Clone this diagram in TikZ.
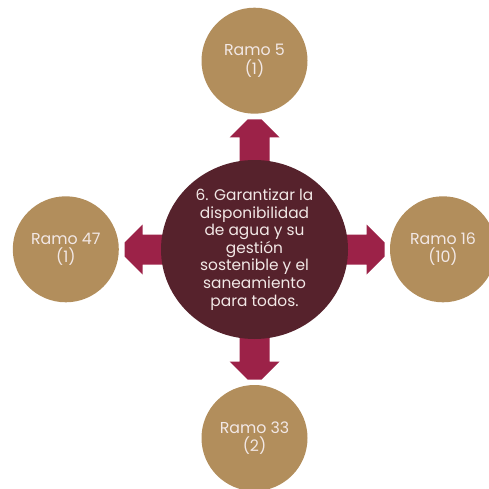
\documentclass[tikz,border=0pt]{standalone}
\usepackage{fontspec}
\setmainfont{Poppins}
\usetikzlibrary{shapes.geometric}
\definecolor{gold}{HTML}{B28E5C}
\definecolor{maroon}{HTML}{56222C}
\definecolor{guinda}{HTML}{9C2248}
\definecolor{cream}{HTML}{F2E8E6}
\pgfdeclarelayer{background}
\pgfsetlayers{background,main}
\begin{document}
\begin{tikzpicture}[x=1pt,y=-1pt,
  ramo/.style={circle, fill=gold, minimum size=106pt, inner sep=0pt, text=cream, align=center, font=\fontsize{15.8}{18.3}\selectfont},
  goal/.style={ellipse, fill=maroon, minimum width=187pt, minimum height=179pt, inner sep=0pt, text=cream, align=center, font=\fontsize{15.4}{17.6}\selectfont},
  blockarrow/.style={fill=guinda}]
\useasboundingbox (0,0) rectangle (489,489);
\clip (0,0) rectangle (489,489);
\node[goal] (g) at (254.5,249.5) {6. Garantizar la\\disponibilidad\\de agua y su\\gestión\\sostenible y el\\saneamiento\\para todos.};
\node[ramo] (r5) at (254.5,60.7) {Ramo 5\\(1)};
\node[ramo] (r47) at (65.8,249.3) {Ramo 47\\(1)};
\node[ramo] (r16) at (443,249.3) {Ramo 16\\(10)};
\node[ramo] (r33) at (254.5,438) {Ramo 33\\(2)};
\begin{pgfonlayer}{background}
\foreach \a in {0,90,180,270}{
  \begin{scope}[shift={(g.center)}, rotate=\a]
    \fill[blockarrow] (70,-15) -- (112,-15) -- (112,-25) -- (130,-7) -- (130,7) -- (112,25) -- (112,15) -- (70,15) -- cycle;
  \end{scope}
}
\end{pgfonlayer}
\end{tikzpicture}
\end{document}
